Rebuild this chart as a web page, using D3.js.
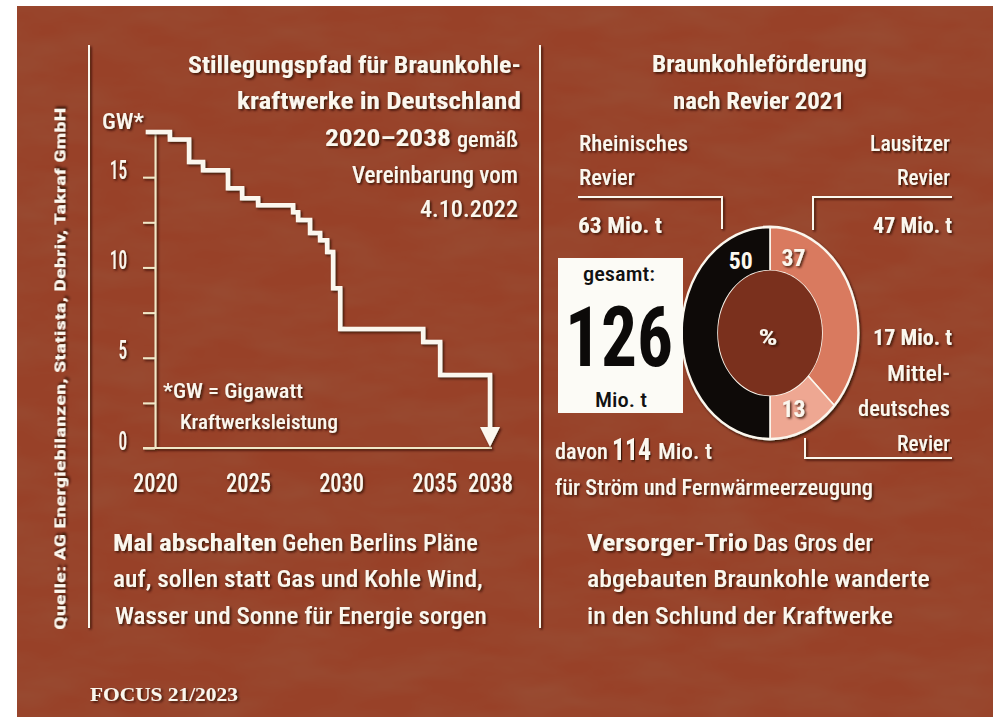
<!DOCTYPE html>
<html>
<head>
<meta charset="utf-8">
<script src="https://cdn.jsdelivr.net/npm/d3@7"></script>
<style>
  html, body { margin: 0; padding: 0; background: #ffffff; }
  svg { display: block; }
  text { font-family: 'Roboto Condensed', 'Liberation Sans Narrow', 'Roboto', 'DejaVu Sans', sans-serif; }
</style>
</head>
<body>
<svg id="chart" width="993" height="717"></svg>
<script>
// ---------------- DATA ----------------
// Stilllegungspfad (step path), years and remaining capacity in GW
const stepYears = [2019.5, 2020.8, 2021.83, 2022.58, 2023.92, 2024.68, 2025.54, 2027.42, 2027.69, 2028.33, 2028.87, 2029.25, 2029.57, 2029.95, 2034.41, 2035.32, 2038];
const capacityGW = [17.5, 17.08, 15.84, 15.38, 14.39, 13.83, 13.45, 13.06, 12.62, 11.9, 11.51, 10.85, 8.85, 6.59, 5.87, 4.04, 0];
const yTickValues = [0, 2.5, 5, 7.5, 10, 12.5, 15];
const yTickLabels = ["0", "", "5", "", "10", "", "15"];
const xTickYears = [2020, 2025, 2030, 2035, 2038];
const xTickLabels = ["2020", "2025", "2030", "2035", "2038"];

// Braunkohleförderung nach Revier 2021
const reviere = ["Lausitzer Revier", "Mitteldeutsches Revier", "Rheinisches Revier"];
const anteilProzent = [37, 13, 50];
const foerderungMioT = [47, 17, 63];
const revierColors = ["#d97a5f", "#eea792", "#0e0a08"];
const gesamtMioT = 126;
const davonStromMioT = 114;

// ---------------- SETUP ----------------
const svg = d3.select("#chart");
const defs = svg.append("defs");

const tex = defs.append("filter").attr("id", "tex").attr("x", 0).attr("y", 0).attr("width", "100%").attr("height", "100%");
tex.append("feTurbulence").attr("type", "fractalNoise").attr("baseFrequency", "0.012 0.035").attr("numOctaves", 3).attr("seed", 7);
tex.append("feColorMatrix").attr("type", "matrix")
  .attr("values", "0 0 0 0 0.32  0 0 0 0 0.1  0 0 0 0 0.05  0.7 0 0 0 -0.22");

const sh = defs.append("filter").attr("id", "sh").attr("x", "-10%").attr("y", "-20%").attr("width", "130%").attr("height", "160%");
sh.append("feDropShadow").attr("dx", 1.5).attr("dy", 1.5).attr("stdDeviation", 0.8)
  .attr("flood-color", "#2a0c04").attr("flood-opacity", 0.85);

// background
svg.append("rect").attr("width", 993).attr("height", 717).attr("fill", "#ffffff");
svg.append("rect").attr("x", 17).attr("y", 6).attr("width", 976).attr("height", 711).attr("fill", "#984128");
svg.append("rect").attr("x", 17).attr("y", 6).attr("width", 976).attr("height", 711).attr("filter", "url(#tex)");

const WHITE = "#fbf7ee";
const CREAM = "#f1e8c8";

// text helper: yc = visual centre; width fitted by horizontal scaling
function T(g, s, x, yc, o) {
  o = o || {};
  const size = o.size || 22;
  const base = o.baseline != null ? o.baseline : yc + size * 0.36;
  const t = g.append("text")
    .attr("x", 0).attr("y", 0)
    .attr("font-size", size)
    .attr("font-weight", o.weight || 500)
    .attr("fill", o.fill || WHITE)
    .attr("text-anchor", o.anchor || "start")
    .text(s);
  if (o.family) t.style("font-family", o.family);
  let k = 1;
  if (o.len) { const w = t.node().getComputedTextLength(); if (w > 0) k = o.len / w; }
  t.attr("transform", `translate(${x},${base}) scale(${k},1)`);
  if (o.shadow !== false) t.attr("filter", "url(#sh)");
  return t;
}
function fitWidth(sel, target, tx, ty) {
  sel.each(function () {
    const el = d3.select(this);
    const s = el.text();
    if (!s) return;
    const w = this.getComputedTextLength();
    const k = target(s) / w;
    el.attr("x", 0).attr("y", 0).attr("dy", 0).attr("transform", `translate(${tx},${ty}) scale(${k},1)`);
  });
}

// separators
const sep = svg.append("g").attr("filter", "url(#sh)");
[89, 540].forEach(xx => sep.append("line").attr("x1", xx).attr("x2", xx).attr("y1", 45).attr("y2", 628)
  .attr("stroke", WHITE).attr("stroke-width", 2));

// source text (rotated)
T(svg.append("g").attr("transform", "translate(66,630) rotate(-90)"),
  "Quelle: AG Energiebilanzen, Statista, Debriv, Takraf GmbH", 0, -6, { size: 15, weight: 700, len: 523 });

// ---------------- LEFT: step chart ----------------
const x = d3.scaleLinear().domain([2020, 2038]).range([155, 490]);
const y = d3.scaleLinear().domain([0, 17.5]).range([448, 132]);

const gTitle = svg.append("g");
T(gTitle, "Stillegungspfad für Braunkohle-", 188, 64, { size: 24, weight: 700, len: 333 });
T(gTitle, "kraftwerke in Deutschland", 237, 100, { size: 24, weight: 700, len: 284 });
T(gTitle, "2020–2038", 325, 137, { size: 24, weight: 700, len: 126 });
T(gTitle, "gemäß", 457, 139, { size: 22, weight: 500, len: 61 });
T(gTitle, "Vereinbarung vom", 352, 175, { size: 23, weight: 500, len: 166 });
T(gTitle, "4.10.2022", 420, 209, { size: 23, weight: 500, len: 98 });

const gAx = svg.append("g").attr("filter", "url(#sh)");
// y axis
const yAxis = d3.axisLeft(y).tickValues(yTickValues).tickSize(12).tickSizeOuter(0)
  .tickFormat((d, i) => yTickLabels[i]).tickPadding(16);
const yg = gAx.append("g").attr("transform", `translate(${x(2020)},0)`).call(yAxis);
yg.select(".domain").attr("stroke", CREAM).attr("stroke-width", 2);
yg.selectAll(".tick line").attr("stroke", CREAM).attr("stroke-width", 2);
yg.selectAll(".tick text").attr("fill", WHITE).attr("font-size", 25).attr("font-weight", 500)
  .style("font-family", "'Roboto Condensed', 'Liberation Sans Narrow', 'Roboto', sans-serif")
  .call(fitWidth, s => s.length * 8.6, -28, 1);

// x axis
const xAxis = d3.axisBottom(x).tickValues(xTickYears).tickSize(0).tickSizeOuter(0)
  .tickFormat((d, i) => xTickLabels[i]);
const xg = gAx.append("g").attr("transform", `translate(0,${y(0)})`).call(xAxis);
xg.select(".domain").remove();
xg.selectAll(".tick text").attr("fill", WHITE).attr("font-size", 26).attr("font-weight", 500)
  .style("font-family", "'Roboto Condensed', 'Liberation Sans Narrow', 'Roboto', sans-serif")
  .call(fitWidth, s => 45, 0, 44);
gAx.append("line").attr("x1", x(2020) - 12).attr("x2", x(2038) + 2).attr("y1", y(0)).attr("y2", y(0))
  .attr("stroke", CREAM).attr("stroke-width", 2);

// step line
const headLen = 20;
const pts = stepYears.map((yr, i) => [x(yr), y(capacityGW[i])]);
pts[pts.length - 1] = [pts[pts.length - 1][0], pts[pts.length - 1][1] - headLen + 2];
const lineGen = d3.line().curve(d3.curveStepAfter);
const gLine = svg.append("g").attr("filter", "url(#sh)");
gLine.append("path").attr("d", lineGen(pts)).attr("fill", "none").attr("stroke", WHITE)
  .attr("stroke-width", 4.5).attr("stroke-linejoin", "miter");
const tipX = x(stepYears[stepYears.length - 1]);
const tipY = y(capacityGW[capacityGW.length - 1]) - 1;
gLine.append("path")
  .attr("d", `M${tipX - 10},${tipY - headLen}L${tipX + 10},${tipY - headLen}L${tipX},${tipY}Z`)
  .attr("fill", WHITE);

// chart labels
T(svg, "GW*", 102, 121, { size: 22, weight: 500, len: 42 });
T(svg, "*GW = Gigawatt", 163, 390, { size: 21, weight: 500, len: 140 });
T(svg, "Kraftwerksleistung", 180, 421, { size: 21, weight: 500, len: 158 });

// bottom left text
const gBL = svg.append("g");
T(gBL, "Mal abschalten", 113, 542, { size: 24, weight: 700, len: 164 });
T(gBL, "Gehen Berlins Pläne", 282, 542, { size: 24, weight: 500, len: 196 });
T(gBL, "auf, sollen statt Gas und Kohle Wind,", 113, 578, { size: 24, weight: 500, len: 370 });
T(gBL, "Wasser und Sonne für Energie sorgen", 115, 615, { size: 24, weight: 500, len: 372 });

// ---------------- RIGHT: donut ----------------
const gRT = svg.append("g");
T(gRT, "Braunkohleförderung", 652, 63, { size: 24, weight: 700, len: 215 });
T(gRT, "nach Revier 2021", 673, 100, { size: 24, weight: 700, len: 172 });

const cx = 770, cy = 333, sy = 1.2;
const rOuter = 88, rInner = 52;
const pie = d3.pie().sort(null).value(d => d);
const arcs = pie(anteilProzent);
const arc = d3.arc().innerRadius(rInner).outerRadius(rOuter);
const gD = svg.append("g").attr("transform", `translate(${cx},${cy}) scale(1,${sy})`);
gD.append("circle").attr("r", rOuter + 1.5).attr("fill", WHITE).attr("filter", "url(#sh)");
gD.selectAll("path.slice").data(arcs).enter().append("path").attr("class", "slice")
  .attr("d", arc).attr("fill", (d, i) => revierColors[i])
  .attr("stroke", WHITE).attr("stroke-width", 1.6).attr("vector-effect", "non-scaling-stroke");
gD.append("circle").attr("r", rInner).attr("fill", "#7a301d");

// slice labels (angle offsets chosen to match the reference placement)
const labelAngle = [arcs[0].startAngle + 0.36, (arcs[1].startAngle + arcs[1].endAngle) / 2 + 0.05, arcs[2].endAngle - 0.45];
const labelR = 67;
arcs.forEach((a, i) => {
  const ang = labelAngle[i];
  const lx = cx + Math.sin(ang) * labelR;
  const ly = cy - Math.cos(ang) * labelR * sy;
  T(svg, String(anteilProzent[i]), lx, ly, { size: 23, weight: 700, anchor: "middle", len: 24, shadow: i !== 2 });
});
T(svg, "%", cx - 2, 337, { size: 22, weight: 700, anchor: "middle", len: 19 });

// total box
svg.append("rect").attr("x", 558).attr("y", 258).attr("width", 125).attr("height", 155).attr("fill", "#fcfbf6");
T(svg, "gesamt:", 583, 0, { size: 21, weight: 500, fill: "#111", len: 72, shadow: false, baseline: 281 });
T(svg, String(gesamtMioT), 565, 0, { size: 84, weight: 700, fill: "#0c0a09", len: 108, shadow: false, baseline: 365.5 });
T(svg, "Mio. t", 595, 0, { size: 21, weight: 500, fill: "#111", len: 52, shadow: false, baseline: 407 });

// Revier labels
const gR = svg.append("g");
T(gR, "Rheinisches", 579, 143, { size: 22, weight: 500, len: 109 });
T(gR, "Revier", 579, 177, { size: 22, weight: 500, len: 56 });
T(gR, `${foerderungMioT[2]} Mio. t`, 578, 225, { size: 22, weight: 700, len: 84 });
T(gR, "Lausitzer", 870, 143, { size: 22, weight: 500, len: 80 });
T(gR, "Revier", 897, 177, { size: 22, weight: 500, len: 53 });
T(gR, `${foerderungMioT[0]} Mio. t`, 873, 225, { size: 22, weight: 700, len: 79 });
T(gR, `${foerderungMioT[1]} Mio. t`, 873, 337, { size: 22, weight: 700, len: 79 });
T(gR, "Mittel-", 887, 373, { size: 22, weight: 500, len: 63 });
T(gR, "deutsches", 858, 408, { size: 22, weight: 500, len: 92 });
T(gR, "Revier", 897, 443, { size: 22, weight: 500, len: 53 });

// brackets
const gB = svg.append("g").attr("filter", "url(#sh)").attr("fill", "none").attr("stroke", WHITE).attr("stroke-width", 2);
gB.append("path").attr("d", "M578,197H722V229");
gB.append("path").attr("d", "M952,197H813V230");
gB.append("path").attr("d", "M805,438V458H952");

// davon / für Strom
T(svg, "davon", 555, 451, { size: 22, weight: 500, len: 53 });
T(svg, String(davonStromMioT), 612, 448, { size: 32, weight: 700, len: 39 });
T(svg, "Mio. t", 658, 451, { size: 22, weight: 500, len: 54 });
T(svg, "für Ström und Fernwärmeerzeugung", 555, 487, { size: 22, weight: 500, len: 318 });

// bottom right text
const gBR = svg.append("g");
T(gBR, "Versorger-Trio", 587, 542, { size: 24, weight: 700, len: 161 });
T(gBR, "Das Gros der", 753, 542, { size: 24, weight: 500, len: 120 });
T(gBR, "abgebauten Braunkohle wanderte", 587, 578, { size: 24, weight: 500, len: 343 });
T(gBR, "in den Schlund der Kraftwerke", 587, 615, { size: 24, weight: 500, len: 306 });

// footer
T(svg, "FOCUS 21/2023", 90, 694, { size: 19, weight: 700, len: 148, family: "'Liberation Serif', 'DejaVu Serif', serif" });
</script>
</body>
</html>
